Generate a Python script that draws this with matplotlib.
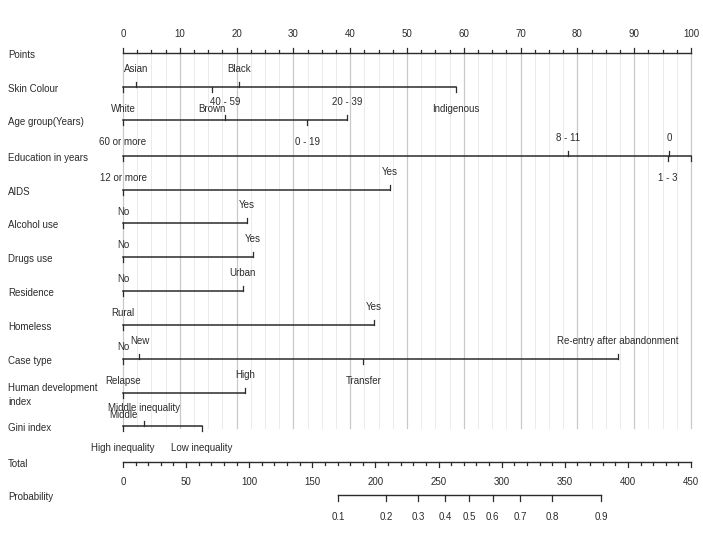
#!/usr/bin/env python3
import matplotlib
matplotlib.use("Agg")
import matplotlib.pyplot as plt

# nomogram data: level names and their points (0-100 scale), sorted by points
SKIN_LEVELS = ["White", "Asian", "Brown", "Black", "Indigenous"]
SKIN_POINTS = [0, 2.3, 15.6, 20.4, 58.6]
AGE_LEVELS = ["60 or more", "40 - 59", "0 - 19", "20 - 39"]
AGE_POINTS = [0, 18.0, 32.4, 39.4]
EDU_LEVELS = ["12 or more", "8 - 11", "1 - 3", "0", ""]
EDU_POINTS = [0, 78.3, 95.9, 96.1, 100]
AIDS_LEVELS = ["No", "Yes"]
AIDS_POINTS = [0, 47.0]
ALCOHOL_LEVELS = ["No", "Yes"]
ALCOHOL_POINTS = [0, 21.8]
DRUGS_LEVELS = ["No", "Yes"]
DRUGS_POINTS = [0, 22.8]
RESIDENCE_LEVELS = ["Rural", "Urban"]
RESIDENCE_POINTS = [0, 21.1]
HOMELESS_LEVELS = ["No", "Yes"]
HOMELESS_POINTS = [0, 44.2]
CASE_LEVELS = ["Relapse", "New", "Transfer", "Re-entry after abandonment"]
CASE_POINTS = [0, 2.9, 42.3, 87.1]
HDI_LEVELS = ["Middle", "High"]
HDI_POINTS = [0, 21.5]
GINI_LEVELS = ["High inequality", "Middle inequality", "Low inequality"]
GINI_POINTS = [0, 3.7, 13.9]

VARIABLES = [
    ("Skin Colour", SKIN_LEVELS, SKIN_POINTS),
    ("Age group(Years)", AGE_LEVELS, AGE_POINTS),
    ("Education in years", EDU_LEVELS, EDU_POINTS),
    ("AIDS", AIDS_LEVELS, AIDS_POINTS),
    ("Alcohol use", ALCOHOL_LEVELS, ALCOHOL_POINTS),
    ("Drugs use", DRUGS_LEVELS, DRUGS_POINTS),
    ("Residence", RESIDENCE_LEVELS, RESIDENCE_POINTS),
    ("Homeless", HOMELESS_LEVELS, HOMELESS_POINTS),
    ("Case type", CASE_LEVELS, CASE_POINTS),
    ("Human development\nindex", HDI_LEVELS, HDI_POINTS),
    ("Gini index", GINI_LEVELS, GINI_POINTS),
]

TOTAL_MAX = 450
TOTAL_TICKS = [0, 50, 100, 150, 200, 250, 300, 350, 400, 450]
PROB_LABELS = ["0.1", "0.2", "0.3", "0.4", "0.5", "0.6", "0.7", "0.8", "0.9"]
PROB_TOTAL = [170.3, 208.4, 233.7, 255.0, 274.0, 293.0, 314.5, 340.0, 378.7]

# layout (pixels)
W, H = 703, 538
X0, X1 = 123, 691
ROW_Y = [87, 120, 156, 190, 223, 257, 291, 325, 359, 393, 426]
POINTS_Y, TOTAL_Y, PROB_Y = 53, 462, 495
LABEL_X = 8
INK = "#2b2b2b"
FS = 7

plt.rcParams["font.family"] = ["Liberation Sans", "DejaVu Sans"]

fig = plt.figure(figsize=(W / 100, H / 100), dpi=100)
ax = fig.add_axes([0, 0, 1, 1])
scale = (X1 - X0) / 100.0
ax.set_xlim(-X0 / scale, (W - X0) / scale)
ax.set_ylim(H, 0)
ax.axis("off")


def tx(pts):
    return pts


def left_label(text, y):
    ax.text((LABEL_X - X0) / scale, y + 2, text, fontsize=FS, color=INK,
            ha="left", va="center", linespacing=1.5)


# grid lines
gy0, gy1 = POINTS_Y, 428
for i in range(41):
    v = i * 2.5
    major = i % 4 == 0
    ax.plot([v, v], [gy0, gy1], color="#c9c9c9" if major else "#ebebeb",
            lw=0.9 if major else 0.7, zorder=0)

# points axis
left_label("Points", POINTS_Y)
ax.plot([0, 100], [POINTS_Y, POINTS_Y], color=INK, lw=1.0)
for i in range(41):
    v = i * 2.5
    major = i % 4 == 0
    ax.plot([v, v], [POINTS_Y, POINTS_Y - (5 if major else 3)], color=INK, lw=0.9)
    if major:
        ax.text(v, 34, f"{int(v)}", fontsize=FS, color=INK, ha="center", va="center")

# categorical variables
for (name, levels, pts), y in zip(VARIABLES, ROW_Y):
    left_label(name, y)
    ax.plot([min(pts), max(pts)], [y, y], color=INK, lw=1.1)
    for k, (lev, p) in enumerate(zip(levels, pts)):
        up = k % 2 == 1
        ax.plot([p, p], [y, y - 5 if up else y + 5], color=INK, lw=0.9)
        if lev:
            ax.text(p, y - 18 if up else y + 22, lev, fontsize=FS, color=INK,
                    ha="center", va="center")

# total points axis
left_label("Total", TOTAL_Y)
ax.plot([0, 100], [TOTAL_Y, TOTAL_Y], color=INK, lw=1.0)
for t in range(0, TOTAL_MAX + 1, 10):
    v = t / TOTAL_MAX * 100
    ax.plot([v, v], [TOTAL_Y, TOTAL_Y + (5 if t % 50 == 0 else 3)], color=INK, lw=0.9)
for t in TOTAL_TICKS:
    ax.text(t / TOTAL_MAX * 100, 482, f"{t}", fontsize=FS, color=INK,
            ha="center", va="center")

# probability axis
left_label("Probability", PROB_Y)
pv = [t / TOTAL_MAX * 100 for t in PROB_TOTAL]
ax.plot([pv[0], pv[-1]], [PROB_Y, PROB_Y], color=INK, lw=1.0)
for lab, v in zip(PROB_LABELS, pv):
    ax.plot([v, v], [PROB_Y, PROB_Y + 6], color=INK, lw=0.9)
    ax.text(v, 517, lab, fontsize=FS, color=INK, ha="center", va="center")

fig.savefig("out.png", dpi=100)
